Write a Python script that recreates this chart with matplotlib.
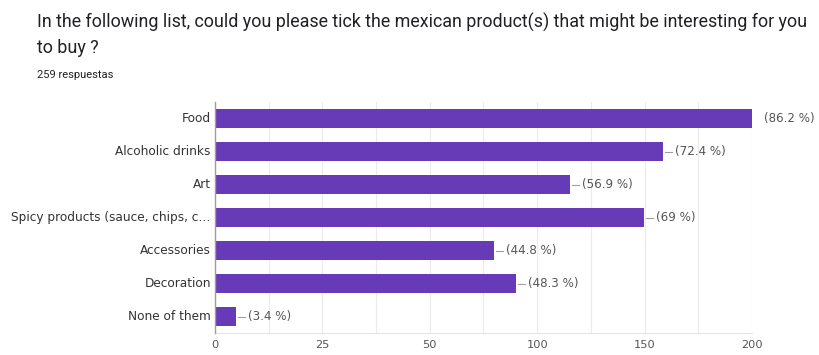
import matplotlib
matplotlib.use("Agg")
import matplotlib.pyplot as plt
import numpy as np
from matplotlib.transforms import offset_copy

categories = ["Food", "Alcoholic drinks", "Art", "Spicy products (sauce, chips, c\u2026",
              "Accessories", "Decoration", "None of them"]
values = [200, 158.5, 115.5, 149.5, 80, 90, 4.8]
pct_labels = ["(86.2 %)", "(72.4 %)", "(56.9 %)", "(69 %)", "(44.8 %)", "(48.3 %)", "(3.4 %)"]
tick_values = [0, 25, 50, 100, 150, 200]
minor_values = [12.5, 37.5, 75, 125, 175]

title_lines = ["In the following list, could you please tick the mexican product(s) that might be interesting for you",
               "to buy ?"]
subtitle = "259 respuestas"

plt.rcParams['font.family'] = ['Roboto', 'DejaVu Sans']
axis_font = ['DejaVu Sans']

idx = np.arange(len(tick_values), dtype=float)
def fwd(v):
    return np.interp(v, tick_values, idx)
def inv(p):
    return np.interp(p, idx, tick_values)

fig = plt.figure(figsize=(8.2, 3.55), dpi=100)
ax = fig.add_axes([215/820, 1-333/355, (752-215)/820, (333-102)/355])
ax.set_xscale('function', functions=(fwd, inv))

y = np.arange(len(categories))
ax.barh(y, values, height=0.6, color="#673ab7", zorder=3)
ax.set_ylim(len(categories)-0.5, -0.5)
ax.set_xlim(0, 200)

ax.set_xticks(tick_values)
ax.set_xticklabels([str(t) for t in tick_values], family=axis_font)
ax.set_xticks(minor_values, minor=True)
ax.grid(True, axis='x', which='both', color="#ebebeb", linewidth=0.8, zorder=0)
ax.tick_params(axis='x', which='both', length=0, pad=5, labelsize=8.2, labelcolor="#555555")
ax.tick_params(axis='y', length=0, pad=3, labelsize=8.7, labelcolor="#333333")
ax.set_yticks(y)
ax.set_yticklabels(categories, family=axis_font, va='center')

for s in ['top', 'right']:
    ax.spines[s].set_visible(False)
ax.spines['bottom'].set_color("#e6e6e6")
ax.spines['bottom'].set_linewidth(0.8)
ax.spines['left'].set_color("#9e9e9e")
ax.spines['left'].set_linewidth(1.0)
ax.spines['left'].set_zorder(4)

fig.canvas.draw()
inv_tr = ax.transData.inverted()
for yi, v, lab in zip(y, values, pct_labels):
    p = ax.transData.transform((v, yi))
    a = inv_tr.transform((p[0] + 2, p[1]))
    b = inv_tr.transform((p[0] + 9, p[1]))
    ax.plot([a[0], b[0]], [yi, yi], color="#9e9e9e", linewidth=0.8, clip_on=True, zorder=3)
    ttr = offset_copy(ax.transData, fig=fig, x=12, y=0, units='dots')
    ax.text(v, yi, lab, transform=ttr, ha='left', va='center', fontsize=8.6,
            color="#555555", clip_on=False, family=axis_font)

fig.text(37/820, 1-22/355, title_lines[0], ha='left', va='center', fontsize=12.9, color="#202124")
fig.text(37/820, 1-48/355, title_lines[1], ha='left', va='center', fontsize=12.9, color="#202124")
fig.text(37/820, 1-75/355, subtitle, ha='left', va='center', fontsize=8.0, color="#202124")

fig.savefig("out.png", dpi=100)
